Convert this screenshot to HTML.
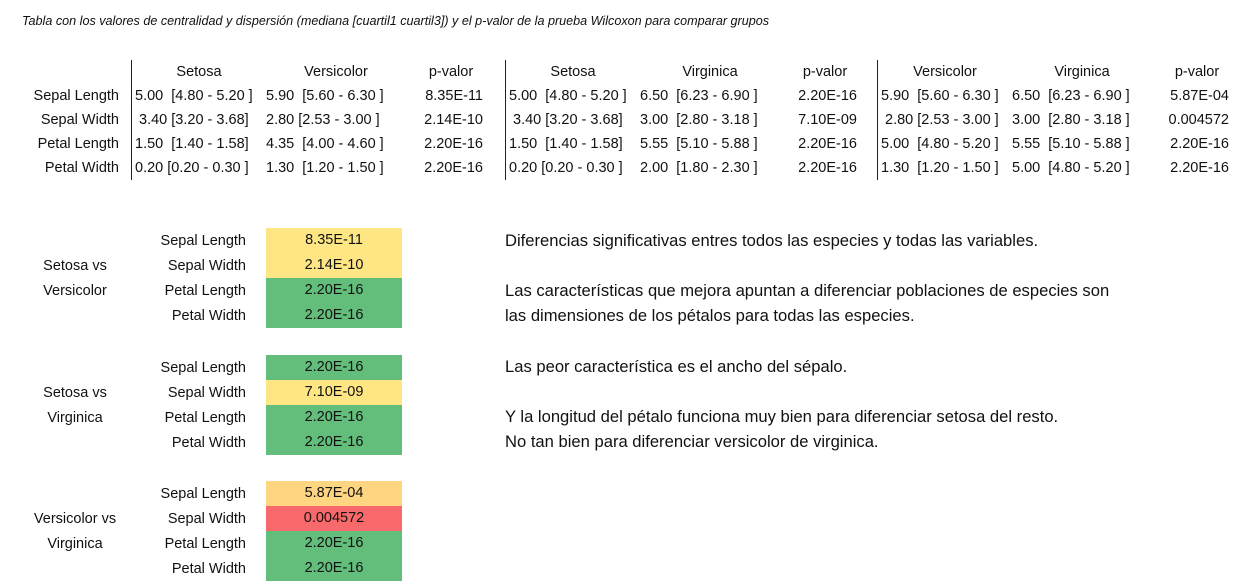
<!DOCTYPE html>
<html><head><meta charset="utf-8">
<style>
body{margin:0;width:1241px;height:588px;background:#fff;position:relative;overflow:hidden;font-family:"Liberation Sans",Arial,sans-serif;color:#111}
.a{position:absolute;white-space:nowrap}
.t{font-size:14.5px;line-height:24px}
.c{text-align:center}
.r{text-align:right}
.vl{position:absolute;width:1px;background:#222;top:60px;height:120px}
.cell{position:absolute;left:266px;width:136px;height:25px;line-height:25px;text-align:center;font-size:14.5px}
.note{position:absolute;left:505px;font-size:16.6px;white-space:nowrap;line-height:20px}
</style></head>
<body>
<div class="a" style="left:22px;top:14px;font-size:12.6px;font-style:italic">Tabla con los valores de centralidad y dispersión (mediana [cuartil1 cuartil3]) y el p-valor de la prueba Wilcoxon para comparar grupos</div>
<div class="vl" style="left:131px"></div>
<div class="vl" style="left:505px"></div>
<div class="vl" style="left:877px"></div>
<div id="tbl"></div>
<div id="sig"></div>
<div class="note" style="top:231px">Diferencias significativas entres todos las especies y todas las variables.</div>
<div class="note" style="top:281px">Las características que mejora apuntan a diferenciar poblaciones de especies son</div>
<div class="note" style="top:306px">las dimensiones de los pétalos para todas las especies.</div>
<div class="note" style="top:357px">Las peor característica es el ancho del sépalo.</div>
<div class="note" style="top:407px">Y la longitud del pétalo funciona muy bien para diferenciar setosa del resto.</div>
<div class="note" style="top:432px">No tan bien para diferenciar versicolor de virginica.</div>
<script>
const variables=["Sepal Length","Sepal Width","Petal Length","Petal Width"];
const headers=[["Setosa","Versicolor","p-valor"],["Setosa","Virginica","p-valor"],["Versicolor","Virginica","p-valor"]];
const colA=[["5.00  [4.80 - 5.20 ]"," 3.40 [3.20 - 3.68]","1.50  [1.40 - 1.58]","0.20 [0.20 - 0.30 ]"],["5.00  [4.80 - 5.20 ]"," 3.40 [3.20 - 3.68]","1.50  [1.40 - 1.58]","0.20 [0.20 - 0.30 ]"],["5.90  [5.60 - 6.30 ]"," 2.80 [2.53 - 3.00 ]","5.00  [4.80 - 5.20 ]","1.30  [1.20 - 1.50 ]"]];
const colB=[["5.90  [5.60 - 6.30 ]","2.80 [2.53 - 3.00 ]","4.35  [4.00 - 4.60 ]","1.30  [1.20 - 1.50 ]"],["6.50  [6.23 - 6.90 ]","3.00  [2.80 - 3.18 ]","5.55  [5.10 - 5.88 ]","2.00  [1.80 - 2.30 ]"],["6.50  [6.23 - 6.90 ]","3.00  [2.80 - 3.18 ]","5.55  [5.10 - 5.88 ]","5.00  [4.80 - 5.20 ]"]];
const pvals=[["8.35E-11","2.14E-10","2.20E-16","2.20E-16"],["2.20E-16","7.10E-09","2.20E-16","2.20E-16"],["5.87E-04","0.004572","2.20E-16","2.20E-16"]];
const comparisons=[["Setosa vs","Versicolor"],["Setosa vs","Virginica"],["Versicolor vs","Virginica"]];
const cellColors=[["#FFE684","#FFE684","#63BE7B","#63BE7B"],["#63BE7B","#FFE684","#63BE7B","#63BE7B"],["#FED580","#F8696B","#63BE7B","#63BE7B"]];
const groupX=[131,505,877];
const tbl=document.getElementById('tbl');
function mk(parent,text,cls,style){const d=document.createElement('div');d.className='a t '+cls;d.textContent=text;d.style.cssText=style;d.style.whiteSpace='pre';parent.appendChild(d);return d;}
variables.forEach((v,i)=>{
  const d=mk(tbl,v,'r','left:0;width:119px;top:'+(84+i*24)+'px');
  
  
});
groupX.forEach((gx,g)=>{
  const hc=[gx+68,gx+205,gx+320];
  headers[g].forEach((h,k)=>{
    const d=mk(tbl,h,'c','left:'+(hc[k]-60)+'px;width:120px;top:60px');
    
    
  });
  variables.forEach((v,i)=>{
    const y=84+i*24;
    const a=mk(tbl,colA[g][i],'','left:'+(gx+4)+'px;top:'+y+'px');
    
    
    const b=mk(tbl,colB[g][i],'','left:'+(gx+135)+'px;top:'+y+'px');
    
    
    const p=mk(tbl,pvals[g][i],'r','left:'+(gx+250)+'px;width:102px;top:'+y+'px');
    
    
  });
});
const sig=document.getElementById('sig');
const blockTop=[228,355,481];
blockTop.forEach((bt,g)=>{
  variables.forEach((v,i)=>{
    const y=bt+i*25;
    const l=mk(sig,v,'r','left:100px;width:146px;top:'+(y+1)+'px');
    
    
    const c=document.createElement('div');
    c.className='cell';c.textContent=pvals[g][i];
    c.style.top=y+'px';c.style.background=cellColors[g][i];
    
    
    sig.appendChild(c);
  });
  comparisons[g].forEach((t,k)=>{
    const d=mk(sig,t,'c','left:0;width:150px;top:'+(bt+26+k*25)+'px');
    
    
  });
});
</script>
</body></html>
